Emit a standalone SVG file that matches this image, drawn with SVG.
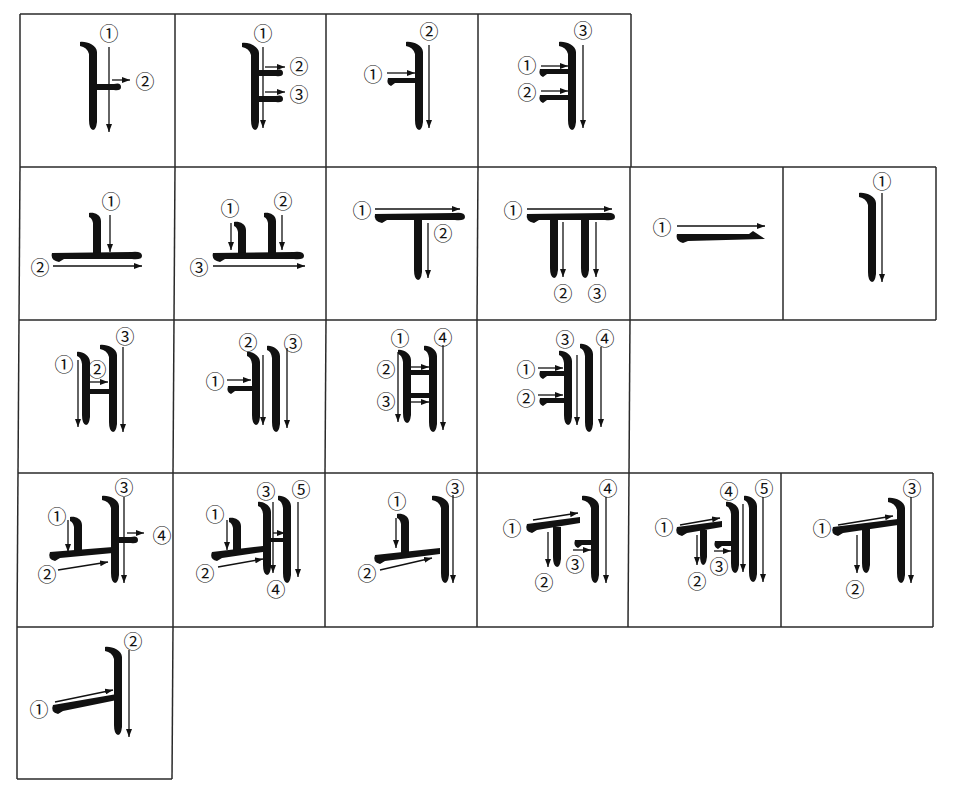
<svg xmlns="http://www.w3.org/2000/svg" width="959" height="794" viewBox="0 0 959 794">
<defs>
<marker id="ah" viewBox="0 0 8 6" refX="8" refY="3" markerWidth="8" markerHeight="6" markerUnits="userSpaceOnUse" orient="auto"><path d="M0,0 L8,3 L0,6 z" fill="#111"/></marker>
</defs>
<style>
.grid line{stroke:#2a2a2a;stroke-width:1.5}
.b{fill:#111}
.a{stroke:#111;stroke-width:1.3;fill:none;marker-end:url(#ah)}
.n{font-family:"Noto Sans CJK JP","DejaVu Sans",sans-serif;font-size:19px;fill:#111;text-anchor:middle;dominant-baseline:central}
</style>
<rect width="959" height="794" fill="#fff"/>
<g id="grid" class="grid">
<line x1="20" y1="14" x2="631" y2="14"/>
<line x1="20" y1="167" x2="936" y2="167"/>
<line x1="19" y1="320" x2="936" y2="320"/>
<line x1="18" y1="473" x2="933" y2="473"/>
<line x1="17" y1="627" x2="933" y2="627"/>
<line x1="17" y1="779" x2="172" y2="779"/>
<line x1="20" y1="14" x2="20" y2="167"/><line x1="175" y1="14" x2="175" y2="167"/><line x1="326" y1="14" x2="326" y2="167"/><line x1="478" y1="14" x2="478" y2="167"/><line x1="631" y1="14" x2="631" y2="167"/>
<line x1="20" y1="167" x2="19" y2="320"/><line x1="175" y1="167" x2="174" y2="320"/><line x1="326" y1="167" x2="326" y2="320"/><line x1="478" y1="167" x2="477" y2="320"/><line x1="630" y1="167" x2="630" y2="320"/><line x1="783" y1="167" x2="783" y2="320"/><line x1="936" y1="167" x2="936" y2="320"/>
<line x1="19" y1="320" x2="18" y2="473"/><line x1="174" y1="320" x2="173" y2="473"/><line x1="326" y1="320" x2="325" y2="473"/><line x1="477" y1="320" x2="477" y2="473"/><line x1="630" y1="320" x2="629" y2="473"/>
<line x1="18" y1="473" x2="17" y2="627"/><line x1="173" y1="473" x2="173" y2="627"/><line x1="325" y1="473" x2="325" y2="627"/><line x1="477" y1="473" x2="477" y2="627"/><line x1="629" y1="473" x2="628" y2="627"/><line x1="781" y1="473" x2="781" y2="627"/><line x1="933" y1="473" x2="933" y2="627"/>
<line x1="17" y1="627" x2="17" y2="779"/><line x1="173" y1="627" x2="172" y2="779"/>
</g>

<g id="cell-a">
<path class="b" d="M80,42 c 6,-1 17,3 17,10 V122 q -1,8 -4,8 q -4,-1 -4,-10 V54 q -2,-7 -9,-8 z"/>
<path class="b" d="M93,84 H114 q 7,-2 7,3 q 0,4 -7,3 H93 z"/>
<line class="a" x1="109" y1="47" x2="109" y2="132"/>
<line class="a" x1="112" y1="80" x2="130" y2="80"/>
<text class="n" x="109" y="32">①</text><text class="n" x="145" y="80">②</text>
</g>

<g id="cell-ya">
<path class="b" d="M242,43 c 6,-1 17,3 17,10 V122 q -1,8 -4,8 q -4,-1 -4,-10 V55 q -2,-7 -9,-8 z"/>
<path class="b" d="M255,70 H276 q 7,-2 7,3 q 0,4 -7,3 H255 z"/>
<path class="b" d="M255,96 H276 q 7,-2 7,3 q 0,4 -7,3 H255 z"/>
<line class="a" x1="263" y1="47" x2="263" y2="128"/>
<line class="a" x1="265" y1="67" x2="285" y2="67"/>
<line class="a" x1="265" y1="92" x2="285" y2="92"/>
<text class="n" x="299" y="65">②</text><text class="n" x="263" y="32">①</text><text class="n" x="299" y="93">③</text>
</g>

<g id="cell-eo">
<path class="b" d="M406,42 c 6,-1 17,3 17,10 V122 q -1,8 -4,8 q -4,-1 -4,-10 V54 q -2,-7 -9,-8 z"/>
<path class="b" d="M388,78 H419 V83 H395 l -4,3 q -5,-2 -3,-8 z"/>
<line class="a" x1="429" y1="45" x2="429" y2="128"/>
<line class="a" x1="387" y1="73" x2="415" y2="73"/>
<text class="n" x="429" y="30">②</text><text class="n" x="373" y="73">①</text>
</g>

<g id="cell-yeo">
<path class="b" d="M559,42 c 6,-1 17,3 17,10 V122 q -1,8 -4,8 q -4,-1 -4,-10 V54 q -2,-7 -9,-8 z"/>
<path class="b" d="M540,69 H572 V74 H547 l -4,3 q -5,-2 -3,-8 z"/>
<path class="b" d="M540,95 H572 V100 H547 l -4,3 q -5,-2 -3,-8 z"/>
<line class="a" x1="583" y1="45" x2="583" y2="128"/>
<line class="a" x1="541" y1="66" x2="568" y2="66"/>
<line class="a" x1="541" y1="91" x2="568" y2="91"/>
<text class="n" x="583" y="29">③</text><text class="n" x="527" y="64">①</text><text class="n" x="527" y="91">②</text>
</g>

<g id="cell-o">
<path class="b" d="M89,213 c 4,-1 12,1 12,8 V255 H93 V223 q -1,-5 -4,-6 z"/>
<path class="b" d="M52,253 L132,252 q 10,-1 10,4 q 0,4 -10,3 L64,259 l -5,3 q -9,-2 -7,-9 z"/>
<line class="a" x1="110" y1="215" x2="110" y2="252"/>
<line class="a" x1="53" y1="266" x2="142" y2="266"/>
<text class="n" x="111" y="200">①</text><text class="n" x="40" y="266">②</text>
</g>

<g id="cell-yo">
<path class="b" d="M234,222 c 4,-1 12,1 12,8 V255 H238 V232 q -1,-5 -4,-6 z"/>
<path class="b" d="M264,213 c 4,-1 12,1 12,8 V255 H268 V223 q -1,-5 -4,-6 z"/>
<path class="b" d="M213,253 L294,252 q 10,-1 10,4 q 0,4 -10,3 L225,259 l -5,3 q -9,-2 -7,-9 z"/>
<line class="a" x1="231" y1="223" x2="231" y2="250"/>
<line class="a" x1="282" y1="215" x2="282" y2="250"/>
<line class="a" x1="213" y1="266" x2="305" y2="266"/>
<text class="n" x="230" y="207">①</text><text class="n" x="283" y="200">②</text><text class="n" x="199" y="266">③</text>
</g>

<g id="cell-u">
<path class="b" d="M375,214 L455,213 q 10,-1 10,4 q 0,4 -10,3 L387,220 l -5,3 q -9,-2 -7,-9 z"/>
<path class="b" d="M414,218 H422 V272 q -1,8 -4,8 q -4,-1 -4,-10 z"/>
<line class="a" x1="375" y1="209" x2="460" y2="209"/>
<line class="a" x1="428" y1="223" x2="428" y2="278"/>
<text class="n" x="362" y="209">①</text><text class="n" x="443" y="232">②</text>
</g>

<g id="cell-yu">
<path class="b" d="M527,214 L605,213 q 10,-1 10,4 q 0,4 -10,3 L539,220 l -5,3 q -9,-2 -7,-9 z"/>
<path class="b" d="M550,218 H558 V270 q -1,8 -4,8 q -4,-1 -4,-10 z"/>
<path class="b" d="M581,218 H589 V270 q -1,8 -4,8 q -4,-1 -4,-10 z"/>
<line class="a" x1="527" y1="209" x2="612" y2="209"/>
<line class="a" x1="563" y1="222" x2="563" y2="277"/>
<line class="a" x1="596" y1="222" x2="596" y2="277"/>
<text class="n" x="513" y="209">①</text><text class="n" x="563" y="292">②</text><text class="n" x="597" y="292">③</text>
</g>

<g id="cell-eu">
<path class="b" d="M677,234 L749,234 L753,231 L765,239 L688,241 l -5,2 q -8,-2 -6,-9 z"/>
<line class="a" x1="677" y1="226" x2="765" y2="226"/>
<text class="n" x="662" y="226">①</text>
</g>

<g id="cell-i">
<path class="b" d="M859,193 c 6,-1 17,3 17,10 V274 q -1,8 -4,8 q -4,-1 -4,-10 V205 q -2,-7 -9,-8 z"/>
<line class="a" x1="882" y1="193" x2="882" y2="282"/>
<text class="n" x="882" y="180">①</text>
</g>

<g id="cell-ae">
<path class="b" d="M77,352 c 4,-1 13,3 13,10 V417 q -1,8 -4,8 q -4,-1 -4,-10 V364 q -1,-7 -5,-8 z"/>
<path class="b" d="M100,345 c 6,-1 17,3 17,10 V424 q -1,8 -4,8 q -4,-1 -4,-10 V357 q -2,-7 -9,-8 z"/>
<path class="b" d="M86,389 H113 V394 H86 z"/>
<line class="a" x1="78" y1="360" x2="78" y2="427"/>
<line class="a" x1="90" y1="382" x2="108" y2="382"/>
<line class="a" x1="123" y1="347" x2="123" y2="432"/>
<text class="n" x="64" y="363">①</text><text class="n" x="97" y="368">②</text><text class="n" x="125" y="335">③</text>
</g>

<g id="cell-e">
<path class="b" d="M247,352 c 4,-1 13,3 13,10 V417 q -1,8 -4,8 q -4,-1 -4,-10 V364 q -1,-7 -5,-8 z"/>
<path class="b" d="M267,346 c 4,-1 13,3 13,10 V424 q -1,8 -4,8 q -4,-1 -4,-10 V358 q -1,-7 -5,-8 z"/>
<path class="b" d="M228,386 H256 V391 H235 l -4,3 q -5,-2 -3,-8 z"/>
<line class="a" x1="227" y1="380" x2="251" y2="380"/>
<line class="a" x1="263" y1="355" x2="263" y2="425"/>
<line class="a" x1="287" y1="348" x2="287" y2="428"/>
<text class="n" x="215" y="380">①</text><text class="n" x="248" y="341">②</text><text class="n" x="293" y="342">③</text>
</g>

<g id="cell-yae">
<path class="b" d="M398,350 c 4,-1 13,3 13,10 V415 q -1,8 -4,8 q -4,-1 -4,-10 V362 q -1,-7 -5,-8 z"/>
<path class="b" d="M424,346 c 4,-1 13,3 13,10 V424 q -1,8 -4,8 q -4,-1 -4,-10 V358 q -1,-7 -5,-8 z"/>
<path class="b" d="M407,370 H433 V375 H407 z"/>
<path class="b" d="M407,393 H433 V398 H407 z"/>
<line class="a" x1="398" y1="352" x2="398" y2="422"/>
<line class="a" x1="411" y1="367" x2="429" y2="367"/>
<line class="a" x1="411" y1="402" x2="429" y2="402"/>
<line class="a" x1="443" y1="345" x2="443" y2="430"/>
<text class="n" x="400" y="337">①</text><text class="n" x="386" y="368">②</text><text class="n" x="386" y="400">③</text><text class="n" x="443" y="336">④</text>
</g>

<g id="cell-ye">
<path class="b" d="M559,351 c 4,-1 13,3 13,10 V417 q -1,8 -4,8 q -4,-1 -4,-10 V363 q -1,-7 -5,-8 z"/>
<path class="b" d="M580,344 c 4,-1 13,3 13,10 V424 q -1,8 -4,8 q -4,-1 -4,-10 V356 q -1,-7 -5,-8 z"/>
<path class="b" d="M540,371 H568 V376 H547 l -4,3 q -5,-2 -3,-8 z"/>
<path class="b" d="M540,398 H568 V403 H547 l -4,3 q -5,-2 -3,-8 z"/>
<line class="a" x1="538" y1="368" x2="563" y2="368"/>
<line class="a" x1="538" y1="395" x2="563" y2="395"/>
<line class="a" x1="577" y1="355" x2="577" y2="425"/>
<line class="a" x1="601" y1="347" x2="601" y2="427"/>
<text class="n" x="526" y="368">①</text><text class="n" x="526" y="397">②</text><text class="n" x="565" y="338">③</text><text class="n" x="605" y="337">④</text>
</g>

<g id="cell-wa">
<path class="b" d="M70,517 c 4,-1 12,1 12,8 V553 H74 V527 q -1,-5 -4,-6 z"/>
<path class="b" d="M50,552 L113,547 L113,553 L60,558 l -5,3 q -8,-2 -5,-9 z"/>
<path class="b" d="M102,496 c 6,-1 17,3 17,10 V575 q -1,8 -4,8 q -4,-1 -4,-10 V508 q -2,-7 -9,-8 z"/>
<path class="b" d="M115,537 H131 q 7,-2 7,3 q 0,4 -7,3 H115 z"/>
<line class="a" x1="68" y1="520" x2="68" y2="552"/>
<line class="a" x1="58" y1="570" x2="108" y2="562"/>
<line class="a" x1="124" y1="497" x2="124" y2="583"/>
<line class="a" x1="127" y1="533" x2="144" y2="533"/>
<text class="n" x="57" y="515">①</text><text class="n" x="47" y="573">②</text><text class="n" x="124" y="486">③</text><text class="n" x="162" y="534">④</text>
</g>

<g id="cell-wae">
<path class="b" d="M229,518 c 4,-1 12,1 12,8 V553 H233 V528 q -1,-5 -4,-6 z"/>
<path class="b" d="M212,552 L263,546 L263,552 L222,558 l -5,3 q -8,-2 -5,-9 z"/>
<path class="b" d="M258,502 c 4,-1 13,3 13,10 V567 q -1,8 -4,8 q -4,-1 -4,-10 V514 q -1,-7 -5,-8 z"/>
<path class="b" d="M278,496 c 4,-1 13,3 13,10 V575 q -1,8 -4,8 q -4,-1 -4,-10 V508 q -1,-7 -5,-8 z"/>
<path class="b" d="M267,538 H287 V542 H267 z"/>
<line class="a" x1="227" y1="520" x2="227" y2="550"/>
<line class="a" x1="218" y1="567" x2="263" y2="559"/>
<line class="a" x1="273" y1="502" x2="273" y2="573"/>
<line class="a" x1="273" y1="533" x2="285" y2="533"/>
<line class="a" x1="298" y1="502" x2="298" y2="577"/>
<text class="n" x="215" y="513">①</text><text class="n" x="205" y="572">②</text><text class="n" x="266" y="490">③</text><text class="n" x="276" y="588">④</text><text class="n" x="301" y="488">⑤</text>
</g>

<g id="cell-oe">
<path class="b" d="M397,514 c 4,-1 12,1 12,8 V555 H401 V524 q -1,-5 -4,-6 z"/>
<path class="b" d="M375,555 L440,548 L440,554 L385,561 l -5,3 q -8,-2 -5,-9 z"/>
<path class="b" d="M432,496 c 6,-1 17,3 17,10 V575 q -1,8 -4,8 q -4,-1 -4,-10 V508 q -2,-7 -9,-8 z"/>
<line class="a" x1="396" y1="518" x2="396" y2="548"/>
<line class="a" x1="380" y1="570" x2="432" y2="558"/>
<line class="a" x1="453" y1="495" x2="453" y2="583"/>
<text class="n" x="397" y="500">①</text><text class="n" x="367" y="572">②</text><text class="n" x="455" y="487">③</text>
</g>

<g id="cell-wo">
<path class="b" d="M527,524 L580,517 L580,523 L537,530 l -5,3 q -8,-2 -5,-9 z"/>
<path class="b" d="M553,527 H561 V559 q -1,8 -4,8 q -4,-1 -4,-10 z"/>
<path class="b" d="M582,496 c 6,-1 17,3 17,10 V575 q -1,8 -4,8 q -4,-1 -4,-10 V508 q -2,-7 -9,-8 z"/>
<path class="b" d="M575,540 H595 V545 H582 l -4,3 q -5,-2 -3,-8 z"/>
<line class="a" x1="533" y1="520" x2="578" y2="513"/>
<line class="a" x1="548" y1="532" x2="548" y2="567"/>
<line class="a" x1="573" y1="550" x2="591" y2="550"/>
<line class="a" x1="606" y1="497" x2="606" y2="583"/>
<text class="n" x="512" y="527">①</text><text class="n" x="544" y="581">②</text><text class="n" x="575" y="563">③</text><text class="n" x="608" y="487">④</text>
</g>

<g id="cell-we">
<path class="b" d="M677,527 L722,521 L722,527 L687,533 l -5,3 q -8,-2 -5,-9 z"/>
<path class="b" d="M700,530 H707 V557 q -1,8 -4,8 q -3,-1 -3,-10 z"/>
<path class="b" d="M726,502 c 4,-1 13,3 13,10 V565 q -1,8 -4,8 q -4,-1 -4,-10 V514 q -1,-7 -5,-8 z"/>
<path class="b" d="M744,496 c 4,-1 13,3 13,10 V574 q -1,8 -4,8 q -4,-1 -4,-10 V508 q -1,-7 -5,-8 z"/>
<path class="b" d="M715,541 H735 V546 H722 l -4,3 q -5,-2 -3,-8 z"/>
<line class="a" x1="680" y1="525" x2="720" y2="518"/>
<line class="a" x1="697" y1="535" x2="697" y2="565"/>
<line class="a" x1="714" y1="551" x2="731" y2="551"/>
<line class="a" x1="743" y1="504" x2="743" y2="572"/>
<line class="a" x1="763" y1="497" x2="763" y2="582"/>
<text class="n" x="664" y="526">①</text><text class="n" x="697" y="580">②</text><text class="n" x="719" y="565">③</text><text class="n" x="729" y="490">④</text><text class="n" x="764" y="487">⑤</text>
</g>

<g id="cell-wi">
<path class="b" d="M833,527 L898,519 L898,525 L843,533 l -5,3 q -8,-2 -5,-9 z"/>
<path class="b" d="M862,527 H870 V565 q -1,8 -4,8 q -4,-1 -4,-10 z"/>
<path class="b" d="M888,498 c 6,-1 17,3 17,10 V575 q -1,8 -4,8 q -4,-1 -4,-10 V510 q -2,-7 -9,-8 z"/>
<line class="a" x1="838" y1="525" x2="893" y2="516"/>
<line class="a" x1="857" y1="535" x2="857" y2="573"/>
<line class="a" x1="911" y1="497" x2="911" y2="583"/>
<text class="n" x="822" y="527">①</text><text class="n" x="855" y="588">②</text><text class="n" x="912" y="487">③</text>
</g>

<g id="cell-ui">
<path class="b" d="M53,705 L117,694 L117,700 L63,711 l -5,3 q -8,-2 -5,-9 z"/>
<path class="b" d="M105,647 c 6,-1 17,3 17,10 V727 q -1,8 -4,8 q -4,-1 -4,-10 V659 q -2,-7 -9,-8 z"/>
<line class="a" x1="55" y1="702" x2="113" y2="690"/>
<line class="a" x1="129" y1="650" x2="129" y2="737"/>
<text class="n" x="39" y="708">①</text><text class="n" x="133" y="640">②</text>
</g>
</svg>
